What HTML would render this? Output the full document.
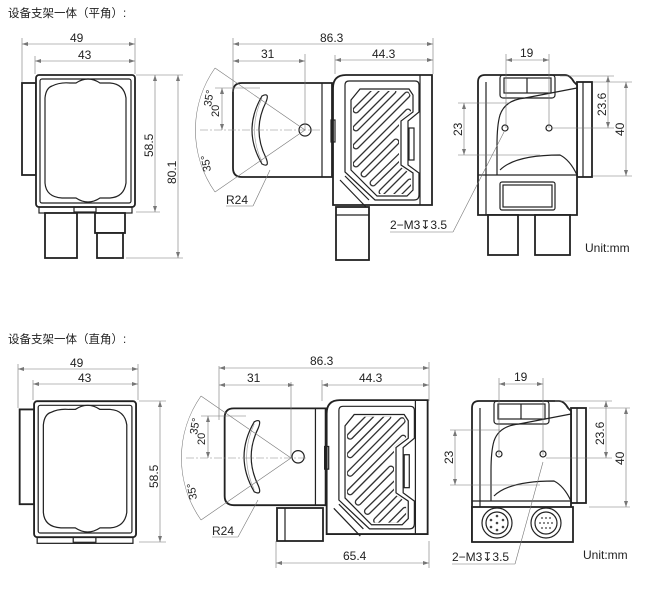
<!DOCTYPE html>
<html><head><meta charset="utf-8"><style>
html,body{margin:0;padding:0;background:#fff;}
svg{display:block;}
text{font-family:"Liberation Sans","Noto Sans CJK SC",sans-serif;fill:#222;}
.t{font-size:12px;}
.d{stroke:#777;stroke-width:0.6;fill:none;}
.k{stroke:#222;stroke-width:1.2;fill:none;}
.kb{stroke:#222;stroke-width:1.8;fill:#fff;}
.c{stroke:#888;stroke-width:0.6;fill:none;stroke-dasharray:8 2 2 2;}
</style></head><body>
<svg width="655" height="609" viewBox="0 0 655 609" xmlns="http://www.w3.org/2000/svg">
<defs>
<marker id="a" markerWidth="6" markerHeight="4" refX="6" refY="2" orient="auto-start-reverse" markerUnits="userSpaceOnUse"><path d="M0,0 L6,2 L0,4z" fill="#777"/></marker>
<clipPath id="hc"><polygon points="353,100 361,91 408,91 411,96 411,111 399,120 399,166 411,174 411,189 406,194 378,194 353,169"/></clipPath>
<g id="front">
 <rect x="22" y="83" width="14" height="92" class="kb" stroke-width="1.2"/>
 <rect x="36" y="75" width="99" height="132" rx="3" class="kb"/>
 <rect x="40" y="79" width="91" height="124" rx="2" class="k"/>
 <path d="M52,86 Q60,82 70,83 L76,83 Q82,79 88,79 Q94,79 100,83 L110,83 Q124,84 126,98 L126,183 Q124,197 110,198 L100,198 Q94,202 88,202 Q82,202 76,198 L62,198 Q46,197 45,183 L45,98 Q46,88 52,86Z" class="k"/>
 <rect x="39" y="207" width="93" height="6" class="k"/>
 <rect x="74" y="207" width="22" height="5" class="k"/>
</g>
<g id="hatch">
 <g clip-path="url(#hc)">
 <g stroke="#333" stroke-width="7" stroke-linecap="round" fill="none">
  <path d="M356,110 L377,89 M356,128 L393,91 M356,146 L407,95 M356,164 L408,112 M364,174 L396,142 M373,183 L408,149 M382,192 L408,166 M392,200 L410,182"/>
 </g>
 <g stroke="#fff" stroke-width="4.4" stroke-linecap="round" fill="none">
  <path d="M356,110 L377,89 M356,128 L393,91 M356,146 L407,95 M356,164 L408,112 M364,174 L396,142 M373,183 L408,149 M382,192 L408,166 M392,200 L410,182"/>
 </g>
 </g>
 <polygon points="351,100 360,89 409,89 413,95 413,112 401,121 401,165 413,173 413,190 407,196 377,196 351,170" class="k"/>
 <path d="M345,85 Q345,81 349,81 L415,81 Q419,81 419,85 L419,112 L408,121 L408,165 L419,173 L419,195 Q419,200 414,200 L375,200 L345,172Z" class="k"/>
 <rect x="409" y="128" width="5" height="32" class="k"/>
</g>
<g id="sidebody">
 <path d="M233,92 Q233,83 242,83 L332,83 L332,177 L242,177 Q233,177 233,168Z" class="kb" stroke-width="1.4"/>
 <line x1="322" y1="83" x2="322" y2="177" class="k"/>
 <path d="M262,96 Q270,92 266,102 Q252,130 266,158 Q270,168 262,164 Q242,130 262,96Z" class="k"/>
 <path d="M262,98 Q247,130 262,162" fill="none" stroke="#999" stroke-width="0.6"/>
 <circle cx="305" cy="130" r="6" class="k"/>
 <path d="M333,205 L333,88 Q333,75 346,75 L432,75 L432,205Z" class="kb"/>
 <line x1="420" y1="75" x2="420" y2="205" class="k"/>
 <rect x="331" y="120" width="4" height="22" class="k"/>
 <use href="#hatch"/>
 <line x1="340" y1="180" x2="366" y2="207" class="k"/>
 <line x1="345" y1="176" x2="369" y2="200" class="k"/>
</g>
<g id="sideang">
 <line x1="200" y1="130" x2="320" y2="130" class="c"/>
 <line x1="305" y1="130" x2="215" y2="68" class="d"/>
 <line x1="305" y1="130" x2="215" y2="192" class="d"/>
 <path d="M215,68 A108,108 0 0 0 215,192" class="d"/>
 <line x1="215" y1="88" x2="260" y2="88" class="d"/>
 <line x1="222" y1="88" x2="222" y2="130" class="d" marker-start="url(#a)" marker-end="url(#a)"/>
 <line x1="305" y1="54" x2="305" y2="130" class="d"/>
 <line x1="233" y1="38" x2="233" y2="92" class="d"/>
</g>
<g id="rearbody">
 <rect x="577" y="82" width="15" height="95" class="kb" stroke-width="1.2"/>
 <line x1="583" y1="82" x2="583" y2="177" class="k"/>
 <path d="M478,82 Q478,75 485,75 L565,75 Q570,75 574,82 L577,85 L577,215 L478,215Z" class="kb"/>
 <rect x="500" y="75" width="55" height="23" rx="3" class="k"/>
 <rect x="504" y="78" width="47" height="15" class="k"/>
 <line x1="527" y1="78" x2="527" y2="93" class="k"/>
 <path d="M497,175 L497,145 Q497,125 500,115 Q505,100 525,98 L577,88" class="k"/>
 <path d="M500,170 Q515,155 560,155 Q570,160 577,175" class="k"/>
 <line x1="478" y1="175" x2="577" y2="175" class="k"/>
 <line x1="486" y1="82" x2="486" y2="215" class="k"/>
 <circle cx="505" cy="128" r="3" class="k"/>
 <circle cx="549" cy="128" r="3" class="k"/>
</g>
</defs>

<!-- ===== TOP ===== -->
<text x="8" y="17" style="font-size:11.5px">设备支架一体（平角）:</text>
<use href="#front"/>
<rect x="45" y="213" width="32" height="45" class="kb" stroke-width="1.3"/>
<rect x="95" y="213" width="30" height="20" class="kb" stroke-width="1.3"/>
<rect x="97" y="233" width="26" height="25" class="kb" stroke-width="1.3"/>
<line x1="22" y1="38" x2="22" y2="82" class="d"/><line x1="135" y1="38" x2="135" y2="74" class="d"/>
<line x1="35" y1="56" x2="35" y2="74" class="d"/>
<line x1="22" y1="44" x2="135" y2="44" class="d" marker-start="url(#a)" marker-end="url(#a)"/>
<line x1="35" y1="61" x2="135" y2="61" class="d" marker-start="url(#a)" marker-end="url(#a)"/>
<text x="70" y="42" class="t">49</text><text x="78" y="59" class="t">43</text>
<line x1="136" y1="75" x2="183" y2="75" class="d"/><line x1="136" y1="212" x2="160" y2="212" class="d"/><line x1="126" y1="258" x2="183" y2="258" class="d"/>
<line x1="155" y1="75" x2="155" y2="212" class="d" marker-start="url(#a)" marker-end="url(#a)"/>
<line x1="178" y1="75" x2="178" y2="258" class="d" marker-start="url(#a)" marker-end="url(#a)"/>
<text class="t" transform="translate(153,157) rotate(-90)">58.5</text>
<text class="t" transform="translate(176,184) rotate(-90)">80.1</text>

<use href="#sidebody"/>
<rect x="336" y="207" width="33" height="53" class="kb" stroke-width="1.3"/>
<line x1="336" y1="215" x2="369" y2="215" class="k"/>
<use href="#sideang"/>
<line x1="433" y1="38" x2="433" y2="74" class="d"/><line x1="335" y1="55" x2="335" y2="74" class="d"/>
<line x1="233" y1="44" x2="433" y2="44" class="d" marker-start="url(#a)" marker-end="url(#a)"/>
<line x1="233" y1="61" x2="305" y2="61" class="d" marker-start="url(#a)" marker-end="url(#a)"/>
<line x1="335" y1="60" x2="433" y2="60" class="d" marker-start="url(#a)" marker-end="url(#a)"/>
<text x="320" y="42" class="t">86.3</text><text x="261" y="58" class="t">31</text><text x="372" y="58" class="t">44.3</text>
<text class="t" transform="translate(211,107) rotate(-80)" style="font-size:11px">35°</text>
<text class="t" transform="translate(219,117) rotate(-90)" style="font-size:11px">20</text>
<text class="t" transform="translate(211,171) rotate(-100)" style="font-size:11px">35°</text>
<text x="226" y="204" class="t">R24</text>
<line x1="226" y1="206" x2="253" y2="206" class="d"/><line x1="253" y1="206" x2="270" y2="170" class="d"/>

<use href="#rearbody"/>
<rect x="488" y="215" width="30" height="40" class="kb" stroke-width="1.3"/>
<rect x="535" y="215" width="35" height="40" class="kb" stroke-width="1.3"/>
<rect x="500" y="182" width="55" height="28" rx="2" class="k"/>
<rect x="503" y="185" width="49" height="22" class="k"/>
<line x1="506" y1="54" x2="506" y2="128" class="d"/><line x1="549" y1="54" x2="549" y2="128" class="d"/>
<line x1="506" y1="60" x2="549" y2="60" class="d" marker-start="url(#a)" marker-end="url(#a)"/>
<text x="520" y="57" class="t">19</text>
<line x1="458" y1="103" x2="510" y2="103" class="d"/><line x1="458" y1="155" x2="540" y2="155" class="d"/>
<line x1="464" y1="103" x2="464" y2="155" class="d" marker-start="url(#a)" marker-end="url(#a)"/>
<text class="t" transform="translate(462,136) rotate(-90)">23</text>
<line x1="560" y1="76" x2="614" y2="76" class="d"/><line x1="552" y1="128" x2="614" y2="128" class="d"/>
<line x1="593" y1="82" x2="632" y2="82" class="d"/><line x1="593" y1="176" x2="632" y2="176" class="d"/>
<line x1="608" y1="76" x2="608" y2="128" class="d" marker-start="url(#a)" marker-end="url(#a)"/>
<line x1="626" y1="82" x2="626" y2="176" class="d" marker-start="url(#a)" marker-end="url(#a)"/>
<text class="t" transform="translate(606,116) rotate(-90)">23.6</text>
<text class="t" transform="translate(624,136) rotate(-90)">40</text>
<text x="390" y="229" class="t">2−M3↧3.5</text>
<line x1="390" y1="232" x2="453" y2="232" class="d"/><line x1="453" y1="232" x2="504" y2="132" class="d"/>
<text x="585" y="252" class="t">Unit:mm</text>

<!-- ===== BOTTOM ===== -->
<text x="8" y="343" style="font-size:11.5px">设备支架一体（直角）:</text>
<g transform="translate(-3,326) scale(1.03,1.03) translate(0,-2)"><use href="#front"/></g>
<line x1="18" y1="364" x2="18" y2="408" class="d"/><line x1="138" y1="364" x2="138" y2="400" class="d"/>
<line x1="33" y1="380" x2="33" y2="400" class="d"/>
<line x1="18" y1="369" x2="138" y2="369" class="d" marker-start="url(#a)" marker-end="url(#a)"/>
<line x1="33" y1="384" x2="138" y2="384" class="d" marker-start="url(#a)" marker-end="url(#a)"/>
<text x="70" y="367" class="t">49</text><text x="78" y="382" class="t">43</text>
<line x1="139" y1="401" x2="166" y2="401" class="d"/><line x1="139" y1="542" x2="166" y2="542" class="d"/>
<line x1="160" y1="401" x2="160" y2="542" class="d" marker-start="url(#a)" marker-end="url(#a)"/>
<text class="t" transform="translate(158,488) rotate(-90)">58.5</text>

<g transform="translate(-13,327) scale(1.02,1.03) translate(0,-4)"><use href="#sidebody"/></g>
<rect x="277" y="508" width="46" height="33" class="kb" stroke-width="1.3"/>
<line x1="285" y1="508" x2="285" y2="541" class="k"/>
<g transform="translate(-14,328)"><use href="#sideang"/></g>
<line x1="429" y1="362" x2="429" y2="401" class="d"/><line x1="322" y1="380" x2="322" y2="401" class="d"/>
<line x1="219" y1="368" x2="429" y2="368" class="d" marker-start="url(#a)" marker-end="url(#a)"/>
<line x1="219" y1="385" x2="294" y2="385" class="d" marker-start="url(#a)" marker-end="url(#a)"/>
<line x1="322" y1="385" x2="429" y2="385" class="d" marker-start="url(#a)" marker-end="url(#a)"/>
<text x="310" y="365" class="t">86.3</text><text x="247" y="382" class="t">31</text><text x="359" y="382" class="t">44.3</text>
<text class="t" transform="translate(197,435) rotate(-80)" style="font-size:11px">35°</text>
<text class="t" transform="translate(205,445) rotate(-90)" style="font-size:11px">20</text>
<text class="t" transform="translate(197,499) rotate(-100)" style="font-size:11px">35°</text>
<text x="212" y="535" class="t">R24</text>
<line x1="212" y1="537" x2="238" y2="537" class="d"/><line x1="238" y1="537" x2="258" y2="500" class="d"/>
<line x1="276" y1="541" x2="276" y2="568" class="d"/><line x1="429" y1="541" x2="429" y2="568" class="d"/>
<line x1="276" y1="563" x2="429" y2="563" class="d" marker-start="url(#a)" marker-end="url(#a)"/>
<text x="343" y="560" class="t">65.4</text>

<g transform="translate(-6,326)"><use href="#rearbody"/></g>
<rect x="472" y="507" width="101" height="35" class="kb" stroke-width="1.5"/>
<circle cx="497" cy="523" r="15" class="k"/><circle cx="497" cy="523" r="11" class="k"/>
<circle cx="546" cy="523" r="15" class="k"/><circle cx="546" cy="523" r="11" class="k"/>
<g fill="#444"><circle cx="497" cy="516" r="1.3"/><circle cx="503" cy="520" r="1.3"/><circle cx="503" cy="527" r="1.3"/><circle cx="497" cy="530" r="1.3"/><circle cx="491" cy="527" r="1.3"/><circle cx="491" cy="520" r="1.3"/><circle cx="497" cy="523" r="1.3"/></g>
<g fill="#666"><circle cx="542" cy="518" r="1"/><circle cx="546" cy="518" r="1"/><circle cx="550" cy="518" r="1"/><circle cx="540" cy="523" r="1"/><circle cx="544" cy="523" r="1"/><circle cx="548" cy="523" r="1"/><circle cx="552" cy="523" r="1"/><circle cx="542" cy="528" r="1"/><circle cx="546" cy="528" r="1"/><circle cx="550" cy="528" r="1"/></g>
<line x1="499" y1="378" x2="499" y2="455" class="d"/><line x1="543" y1="378" x2="543" y2="455" class="d"/>
<line x1="499" y1="384" x2="543" y2="384" class="d" marker-start="url(#a)" marker-end="url(#a)"/>
<text x="514" y="381" class="t">19</text>
<line x1="450" y1="430" x2="500" y2="430" class="d"/><line x1="450" y1="485" x2="540" y2="485" class="d"/>
<line x1="455" y1="430" x2="455" y2="485" class="d" marker-start="url(#a)" marker-end="url(#a)"/>
<text class="t" transform="translate(453,464) rotate(-90)">23</text>
<line x1="555" y1="401" x2="612" y2="401" class="d"/><line x1="546" y1="458" x2="612" y2="458" class="d"/>
<line x1="589" y1="408" x2="630" y2="408" class="d"/><line x1="589" y1="507" x2="630" y2="507" class="d"/>
<line x1="606" y1="401" x2="606" y2="458" class="d" marker-start="url(#a)" marker-end="url(#a)"/>
<line x1="626" y1="408" x2="626" y2="507" class="d" marker-start="url(#a)" marker-end="url(#a)"/>
<text class="t" transform="translate(604,445) rotate(-90)">23.6</text>
<text class="t" transform="translate(624,465) rotate(-90)">40</text>
<text x="452" y="561" class="t">2−M3↧3.5</text>
<line x1="452" y1="564" x2="515" y2="564" class="d"/><line x1="515" y1="564" x2="543" y2="462" class="d"/>
<text x="583" y="559" class="t">Unit:mm</text>
</svg>
</body></html>
